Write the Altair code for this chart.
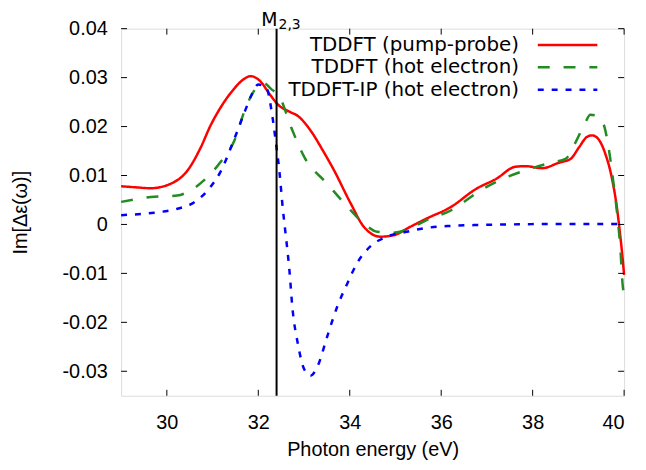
import altair as alt
import pandas as pd

# ---------------- data ----------------
series_names = ["TDDFT (pump-probe)", "TDDFT (hot electron)", "TDDFT-IP (hot electron)"]
series_colors = ["#ff0000", "#228b22", "#0000ff"]
series_dashes = [[1, 0], [12, 14], [6, 8]]

red_E = [29.0, 29.3, 29.65, 30.08, 30.45, 30.74, 30.95, 31.17, 31.46, 31.67, 31.83, 32.04, 32.25, 32.43,
         32.69, 32.86, 33.15, 33.4, 33.66, 34.02, 34.31, 34.67, 34.96, 35.32, 35.68, 36.2, 36.77, 37.2,
         37.63, 37.85, 38.21, 38.57, 38.83, 39.01, 39.19, 39.30, 39.44, 39.59, 39.73, 39.84, 39.91, 39.97, 40.0]
red_v = [0.0078, 0.0076, 0.0074, 0.0083, 0.0110, 0.0157, 0.0201, 0.0238, 0.0276, 0.0296, 0.0303, 0.0293,
         0.0266, 0.0245, 0.0230, 0.0222, 0.0191, 0.0153, 0.0110, 0.0043, -0.0005, -0.0025, -0.0022, -0.0005,
         0.0012, 0.0035, 0.0073, 0.0093, 0.0118, 0.0119, 0.0115, 0.0126, 0.0134, 0.0157, 0.0179, 0.0182,
         0.0174, 0.0144, 0.0096, 0.0036, -0.0018, -0.0072, -0.0103]

green_E = [29.0, 29.65, 30.23, 30.45, 30.81, 31.17, 31.49, 31.71, 31.93, 32.11, 32.29, 32.46, 32.72, 33.01,
           33.51, 33.95, 34.31, 34.60, 34.96, 35.32, 35.68, 36.2, 36.92, 37.42, 37.85, 38.43, 38.72, 38.94,
           39.15, 39.26, 39.40, 39.55, 39.66, 39.77, 39.84, 39.91, 39.98, 40.0]
green_v = [0.0046, 0.0056, 0.0059, 0.0066, 0.0090, 0.0127, 0.0174, 0.0235, 0.0276, 0.0289, 0.0276, 0.0262,
           0.0198, 0.0137, 0.0083, 0.0036, 0.0002, -0.0015, -0.0017, -0.0008, 0.0009, 0.0028, 0.0073, 0.0096,
           0.0111, 0.0127, 0.0134, 0.0168, 0.0208, 0.0224, 0.0222, 0.0205, 0.0157, 0.0083, 0.0029, -0.0039,
           -0.0133, -0.0138]

blue_E = [29.0, 29.72, 30.23, 30.56, 30.95, 31.17, 31.46, 31.71, 31.86, 32.0, 32.18, 32.29, 32.38, 32.46,
          32.54, 32.58, 32.68, 32.75, 32.86, 33.0, 33.14, 33.30, 33.51, 33.73, 33.95, 34.16, 34.45, 34.81,
          35.25, 35.61, 36.2, 36.9, 37.5, 38.5, 39.5, 40.0]
blue_v = [0.0019, 0.0024, 0.0032, 0.0043, 0.0076, 0.0107, 0.0171, 0.0232, 0.0266, 0.0286, 0.0279, 0.0232,
          0.0171, 0.0110, 0.0029, -0.0005, -0.0093, -0.0174, -0.0241, -0.0295, -0.0309, -0.0289, -0.0228,
          -0.0167, -0.0120, -0.0079, -0.0045, -0.0025, -0.0015, -0.0008, -0.0003, -0.0001, 0.0000, 0.0001,
          0.0001, 0.0001]

x_ticks = [30, 32, 34, 36, 38, 40]
y_ticks = [-0.03, -0.02, -0.01, 0, 0.01, 0.02, 0.03, 0.04]
edge_E = [32.4]
edge_label = "M"
edge_sub = "2,3"
x_title = "Photon energy (eV)"
y_title = "Im[Δε(ω)]"

# ---------------- build ----------------
FONT = "DejaVu Sans"
FS = 20
W, H = 507, 370

rows = []
for name, E, V in zip(series_names, [red_E, green_E, blue_E], [red_v, green_v, blue_v]):
    for e, v in zip(E, V):
        rows.append({"E": e, "v": v, "series": name})
df = pd.DataFrame(rows)

xs = alt.Scale(domain=[29, 40], nice=False, zero=False)
ys = alt.Scale(domain=[-0.035, 0.04], nice=False, zero=False)
color_scale = alt.Scale(domain=series_names, range=series_colors)
dash_scale = alt.Scale(domain=series_names, range=series_dashes)

lines = alt.Chart(df).mark_line(strokeWidth=2.5, interpolate="monotone").encode(
    x=alt.X("E:Q", scale=xs, axis=alt.Axis(values=x_ticks, title=x_title, ticks=False, tickSize=0,
                                           domain=False, grid=False, labelPadding=17, titlePadding=7,
                                           labelFontSize=FS, titleFontSize=FS, titleFontWeight="normal")),
    y=alt.Y("v:Q", scale=ys, axis=alt.Axis(values=y_ticks, title=y_title, ticks=False, tickSize=0,
                                           domain=False, grid=False, labelPadding=14, titlePadding=32,
                                           labelFontSize=FS, titleFontSize=FS, titleFontWeight="normal",
                                           labelExpr="datum.value == 0 ? '0' : (datum.value < 0 ? '-' + format(-datum.value, '.2f') : format(datum.value, '.2f'))")),
    color=alt.Color("series:N", scale=color_scale, legend=None),
    strokeDash=alt.StrokeDash("series:N", scale=dash_scale, legend=None),
)

edge_df = pd.DataFrame({"E": edge_E, "lab": [edge_label], "sub": [edge_sub]})
edge = alt.Chart(edge_df).mark_rule(color="black", strokeWidth=2).encode(x="E:Q")
edge_m = alt.Chart(edge_df).mark_text(align="right", baseline="alphabetic", fontSize=19, font=FONT,
                                      color="black", dx=1).encode(x="E:Q", y=alt.value(-3), text="lab:N")
edge_s = alt.Chart(edge_df).mark_text(align="left", baseline="alphabetic", fontSize=14, font=FONT,
                                      color="black", dx=2).encode(x="E:Q", y=alt.value(0), text="sub:N")

xt = pd.DataFrame({"t": x_ticks})
yt = pd.DataFrame({"t": y_ticks})
TL = 6
tick_layers = [
    alt.Chart(xt).mark_rule(color="black", strokeWidth=1).encode(x=alt.X("t:Q"), y=alt.value(H), y2=alt.value(H - TL)),
    alt.Chart(xt).mark_rule(color="black", strokeWidth=1).encode(x=alt.X("t:Q"), y=alt.value(0), y2=alt.value(TL)),
    alt.Chart(yt).mark_rule(color="black", strokeWidth=1).encode(y=alt.Y("t:Q"), x=alt.value(0), x2=alt.value(TL)),
    alt.Chart(yt).mark_rule(color="black", strokeWidth=1).encode(y=alt.Y("t:Q"), x=alt.value(W), x2=alt.value(W - TL)),
]

legend_y = [16.5, 39, 61.5]
legend_layers = []
for name, ly in zip(series_names, legend_y):
    ld = pd.DataFrame({"series": [name]})
    legend_layers.append(
        alt.Chart(ld).mark_rule(strokeWidth=2.5).encode(
            x=alt.value(420), x2=alt.value(480), y=alt.value(ly),
            color=alt.Color("series:N", scale=color_scale, legend=None),
            strokeDash=alt.StrokeDash("series:N", scale=dash_scale, legend=None)))
    legend_layers.append(
        alt.Chart(ld).mark_text(align="right", baseline="middle", fontSize=FS, font=FONT, color="black").encode(
            x=alt.value(401), y=alt.value(ly), text="series:N"))

chart = alt.layer(lines, edge, edge_m, edge_s, *tick_layers, *legend_layers).properties(
    width=W, height=H,
    autosize=alt.AutoSizeParams(type="none"),
    padding={"left": 114, "top": 19, "right": 14, "bottom": 72},
).configure_view(stroke="black", strokeWidth=1).configure_axis(
    labelFont=FONT, titleFont=FONT, labelColor="black", titleColor="black"
).configure(background="white")

chart.save("out.html", embed_options={"renderer": "svg", "actions": False})
